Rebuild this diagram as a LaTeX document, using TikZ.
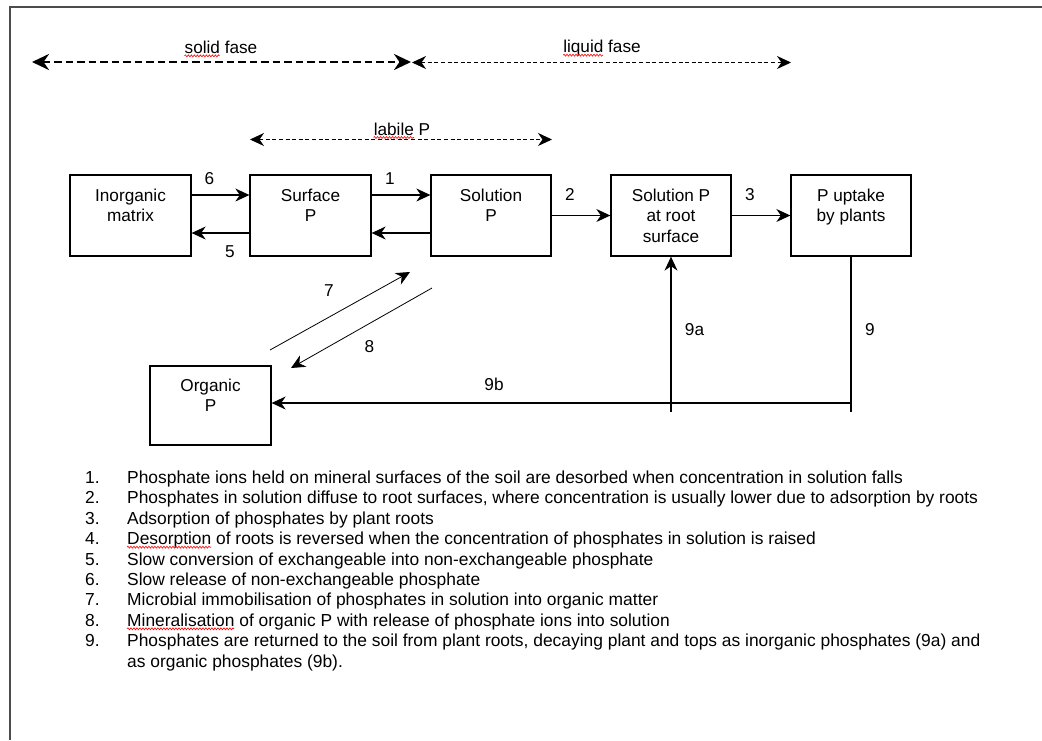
\documentclass[tikz,border=0pt]{standalone}
\usepackage{fontspec}
\setmainfont{Liberation Sans}
\usetikzlibrary{arrows.meta,decorations.pathmorphing,calc}
\newlength\wsolid
\newlength\wliquid
\newlength\wlabile
\newlength\wdesorp
\newlength\wminer
\newcommand\lblfont{\fontsize{17.2}{20.5}\selectfont}
\newcommand\lstfont{\fontsize{17.4}{20.4}\selectfont}
\begin{document}
\settowidth{\wsolid}{\lblfont solid}%
\settowidth{\wliquid}{\lblfont liquid}%
\settowidth{\wlabile}{\lblfont labile}%
\settowidth{\wdesorp}{\lstfont Desorption}%
\settowidth{\wminer}{\lstfont Mineralisation}%
\begin{tikzpicture}[x=1pt,y=-1pt,
  box/.style={draw, line width=1.3pt, minimum width=121pt, minimum height=81pt, align=center, font=\lblfont, inner sep=0pt},
  lab/.style={font=\lblfont, inner sep=0pt, anchor=base},
  num/.style={font=\lstfont, inner sep=0pt, anchor=base west},
  txt/.style={font=\lstfont, inner sep=0pt, anchor=base west},
  wtip/.tip={Stealth[length=14pt,width=13pt,inset=4.5pt]},
  btip/.tip={Stealth[length=17pt,width=16pt,inset=5.5pt]},
  flow/.style={line width=1.1pt, -wtip},
  thinflow/.style={line width=0.8pt, -wtip},
  wavy/.style={red, line width=0.6pt, decorate, decoration={snake, segment length=3pt, amplitude=1pt}},
  ]
\useasboundingbox (0,0) rectangle (1042,740);

% frame
\draw[line width=2pt, black!70] (1042,6.5) -- (10,6.5) -- (10,740);

% phase arrows
\coordinate (sfL) at (32,62);
\coordinate (sfR) at (411,62);
\coordinate (lfL) at (412,62.5);
\coordinate (lfR) at (791,62.5);
\coordinate (lbL) at (250,139.5);
\coordinate (lbR) at (552,139.5);
\draw[line width=2.8pt, dash pattern=on 7.5pt off 4pt, btip-btip] (sfL) -- (sfR);
\draw[line width=1pt, dash pattern=on 4pt off 2.6pt, wtip-wtip] (lfL) -- (lfR);
\draw[line width=1pt, dash pattern=on 4pt off 2.6pt, wtip-wtip] (lbL) -- (lbR);
\node[lab] (tsf) at (221,53.3) {solid fase};
\node[lab] (tlf) at (602,52.7) {liquid fase};
\node[lab] (tlb) at (402,135) {labile P};
\draw[wavy] ([yshift=-2.5pt]tsf.base west) -- ++(\wsolid,0);
\draw[wavy] ([yshift=-2.5pt]tlf.base west) -- ++(\wliquid,0);
\draw[wavy] ([yshift=-2.5pt]tlb.base west) -- ++(\wlabile,0);

% boxes
\node[box] (inorg) at (130.5,215.5) {Inorganic\\matrix\\\mbox{}};
\node[box] (surf) at (310.5,215.5) {Surface\\P\\\mbox{}};
\node[box, minimum width=120pt] (sol) at (491,215.5) {Solution\\P\\\mbox{}};
\node[box, minimum width=120pt] (root) at (671,215.5) {Solution P\\at root\\surface};
\node[box, minimum width=120pt] (upt) at (851,215.5) {P uptake\\by plants\\\mbox{}};
\node[box, minimum height=79pt] (org) at (210.5,405.5) {Organic\\P\\\mbox{}};

% horizontal flows
\draw[flow] ([yshift=20.5pt]inorg.east) -- ([yshift=20.5pt]surf.west);
\draw[flow] ([yshift=-17.5pt]surf.west) -- ([yshift=-17.5pt]inorg.east);
\draw[flow] ([yshift=20.5pt]surf.east) -- ([yshift=20.5pt]sol.west);
\draw[flow] ([yshift=-17.5pt]sol.west) -- ([yshift=-17.5pt]surf.east);
\draw[flow] (sol.east) -- (root.west);
\draw[flow] (root.east) -- (upt.west);

% return flows
\coordinate (n9) at (851,412);
\coordinate (n9a) at (671,412);
\coordinate (j9) at (851,403);
\draw[line width=1.1pt] (upt.south) -- (n9);
\draw[flow] (n9a) -- (root.south);
\draw[flow] (j9) -- (org.east |- j9);

% organic exchange
\coordinate (s7) at (270,350);
\coordinate (e7) at (410,272);
\coordinate (s8) at (432,288);
\coordinate (e8) at (291,368);
\draw[thinflow] (s7) -- (e7);
\draw[thinflow] (s8) -- (e8);

% flow labels
\node[lab] (n6l) at (209.5,184) {6};
\node[lab] (n1l) at (390,184) {1};
\node[lab] (n5l) at (230,257) {5};
\node[lab] (n2l) at (570,200.7) {2};
\node[lab] (n3l) at (750,200.7) {3};
\node[lab] (n7l) at (329,296) {7};
\node[lab] (n8l) at (369.5,352) {8};
\node[lab] (n9bl) at (494,390) {9b};
\node[lab] (n9al) at (694.5,335) {9a};
\node[lab] (n9l) at (870,335) {9};

% legend
\node[num] (k1) at (85,483.5) {1.};
\node[txt] (t1) at (127,483.5) {Phosphate ions held on mineral surfaces of the soil are desorbed when concentration in solution falls};
\node[num] (k2) at (85,503.9) {2.};
\node[txt] (t2) at (127,503.9) {Phosphates in solution diffuse to root surfaces, where concentration is usually lower due to adsorption by roots};
\node[num] (k3) at (85,524.3) {3.};
\node[txt] (t3) at (127,524.3) {Adsorption of phosphates by plant roots};
\node[num] (k4) at (85,544.7) {4.};
\node[txt] (t4) at (127,544.7) {Desorption of roots is reversed when the concentration of phosphates in solution is raised};
\node[num] (k5) at (85,565.1) {5.};
\node[txt] (t5) at (127,565.1) {Slow conversion of exchangeable into non-exchangeable phosphate};
\node[num] (k6) at (85,585.5) {6.};
\node[txt] (t6) at (127,585.5) {Slow release of non-exchangeable phosphate};
\node[num] (k7) at (85,605.9) {7.};
\node[txt] (t7) at (127,605.9) {Microbial immobilisation of phosphates in solution into organic matter};
\node[num] (k8) at (85,626.3) {8.};
\node[txt] (t8) at (127,626.3) {Mineralisation of organic P with release of phosphate ions into solution};
\node[num] (k9) at (85,646.7) {9.};
\node[txt] (t9) at (127,646.7) {Phosphates are returned to the soil from plant roots, decaying plant and tops as inorganic phosphates (9a) and};
\node[txt] (t10) at (127,667.1) {as organic phosphates (9b).};
\draw[wavy] ([yshift=-2.5pt]t4.base west) -- ++(\wdesorp,0);
\draw[wavy] ([yshift=-2.5pt]t8.base west) -- ++(\wminer,0);
\end{tikzpicture}
\end{document}
